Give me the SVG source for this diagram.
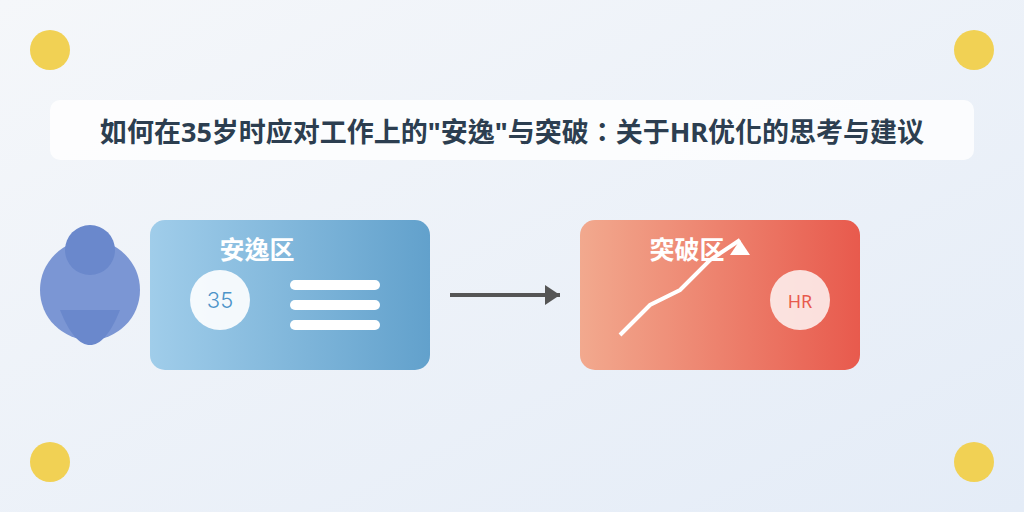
<svg xmlns="http://www.w3.org/2000/svg" width="1024" height="512" viewBox="0 0 1024 512">
<style>
text{font-family:"Noto Sans","Noto Sans CJK TC",sans-serif}
.dot{fill:#f1d154}
.bar{fill:#fff}
.zone{font-size:25px;font-weight:700;fill:#fff}
</style>
<defs>
<linearGradient id="bg" x1="0" y1="0" x2="1" y2="1"><stop offset="0" stop-color="#f5f7fa"/><stop offset="1" stop-color="#e4ecf7"/></linearGradient>
<linearGradient id="blue" x1="0" y1="0" x2="1" y2="0"><stop offset="0" stop-color="#a0cdea"/><stop offset="1" stop-color="#62a1cc"/></linearGradient>
<linearGradient id="red" x1="0" y1="0" x2="1" y2="0"><stop offset="0" stop-color="#f2a98e"/><stop offset="1" stop-color="#e85a4d"/></linearGradient>
</defs>
<rect id="background" width="1024" height="512" fill="url(#bg)"/>
<g id="corners"><circle class="dot" cx="50" cy="50" r="20"/><circle class="dot" cx="974" cy="50" r="20"/><circle class="dot" cx="50" cy="462" r="20"/><circle class="dot" cx="974" cy="462" r="20"/></g>
<g id="title"><rect x="50" y="100" width="924" height="60" rx="10" fill="#fff" fill-opacity=".8"/>
<text x="512" y="142" text-anchor="middle" font-size="27" font-weight="700" fill="#2c3e50">如何在35岁时应对工作上的"安逸"与突破：关于HR优化的思考与建议</text></g>
<g id="person"><circle cx="90" cy="290" r="50" fill="#7b96d4"/><circle cx="90" cy="250" r="25" fill="#6a88cc"/><path d="M60 310H120C110 335 100 345 90 345C80 345 70 335 60 310Z" fill="#6a88cc"/></g>
<g id="comfort-zone"><rect x="150" y="220" width="280" height="150" rx="15" fill="url(#blue)"/>
<text class="zone" x="219.5" y="259">安逸区</text>
<circle cx="220" cy="300" r="30" fill="#fff" fill-opacity=".9"/>
<text x="220" y="308" text-anchor="middle" font-size="22" font-weight="300" style="font-family:Inter,sans-serif" fill="#4d94c9">35</text>
<rect class="bar" x="290" y="280" width="90" height="10" rx="5"/><rect class="bar" x="290" y="300" width="90" height="10" rx="5"/><rect class="bar" x="290" y="320" width="90" height="10" rx="5"/></g>
<g id="connectors"><line x1="450" y1="295" x2="560" y2="295" stroke="#555" stroke-width="4"/><polygon points="545,285 560,295 545,305" fill="#555"/></g>
<g id="breakthrough-zone"><rect x="580" y="220" width="280" height="150" rx="15" fill="url(#red)"/>
<text class="zone" x="649.5" y="259">突破区</text>
<polyline points="620,335 650,305 680,290 710,260 740,240" fill="none" stroke="#fff" stroke-width="4"/><polygon points="730,255 740,240 750,255" fill="#fff"/>
<circle cx="800" cy="300" r="30" fill="#fff" fill-opacity=".8"/>
<text x="800" y="308" text-anchor="middle" font-size="18" fill="#e85a4d">HR</text></g>
</svg>
